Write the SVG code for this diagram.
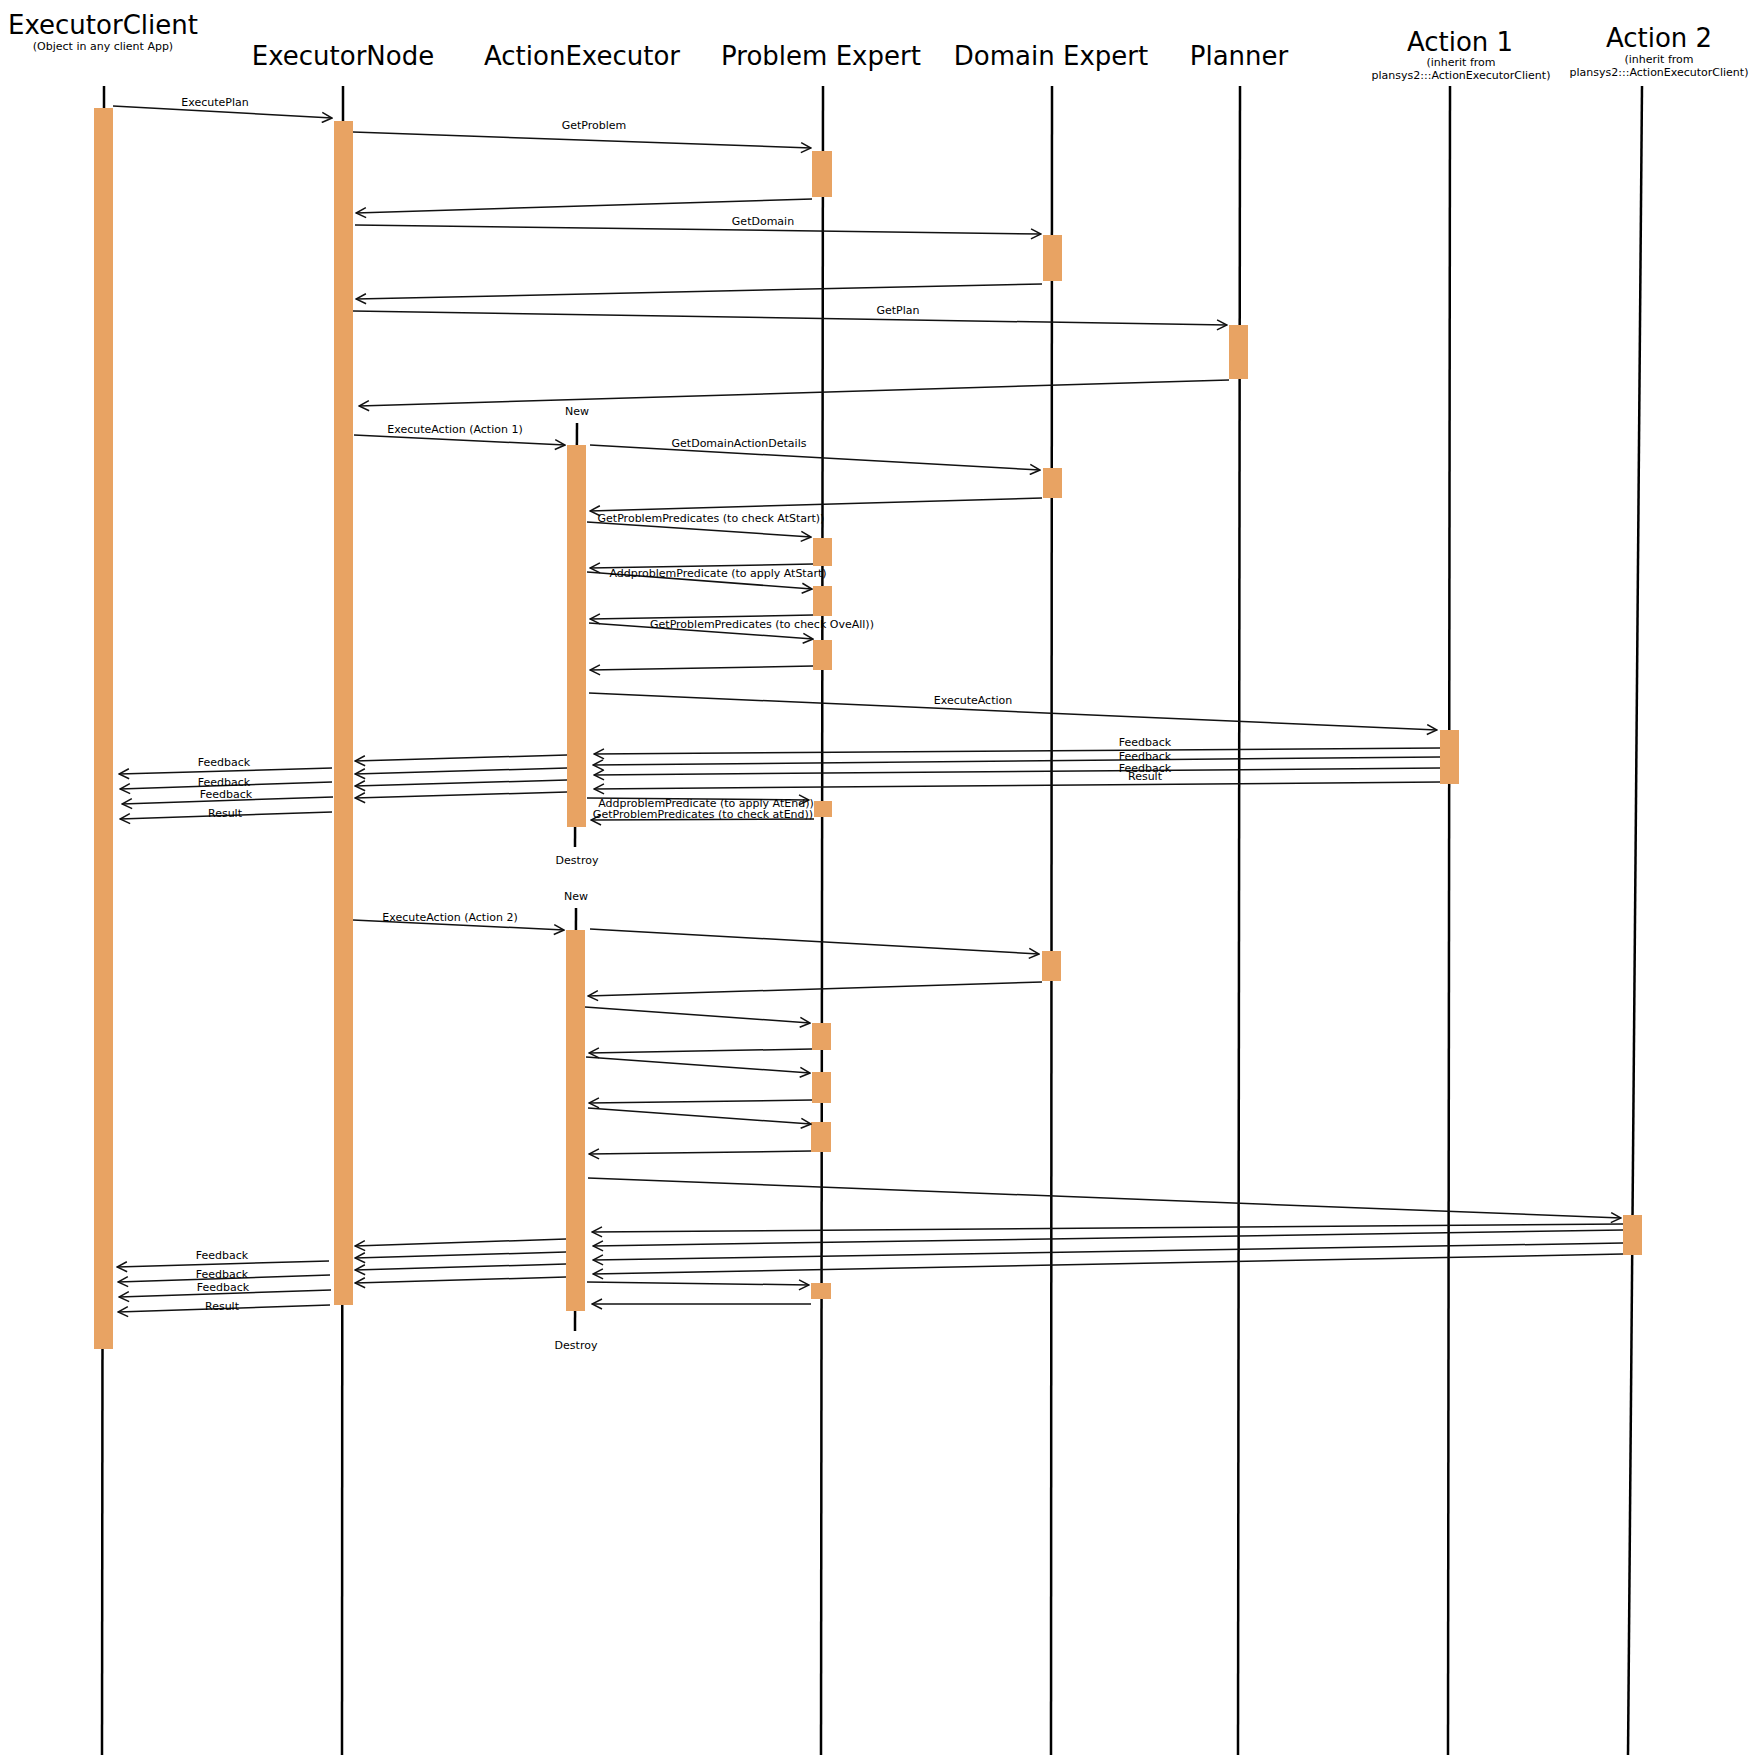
<svg xmlns="http://www.w3.org/2000/svg" width="1759" height="1755" viewBox="0 0 1759 1755">
<defs>
<style>
.t{font-family:"DejaVu Sans",sans-serif;font-size:26px;fill:#000;text-anchor:middle}
.s{font-family:"DejaVu Sans",sans-serif;font-size:11px;fill:#000;text-anchor:middle}
.ll{stroke:#000;stroke-width:2.5;fill:none}
.bar{fill:#E8A363}
.m{stroke:#111;stroke-width:1.5;fill:none;marker-end:url(#ah)}
</style>
<marker id="ah" viewBox="0 0 12 12" refX="11" refY="6" markerWidth="12" markerHeight="12" markerUnits="userSpaceOnUse" orient="auto">
<path d="M1,1 L11,6 L1,11" stroke="#111" stroke-width="1.5" fill="none"/>
</marker>
</defs>
<rect width="1759" height="1755" fill="#fff"/>

<g id="executorclient">
<text class="t" x="103" y="34">ExecutorClient</text>
<text class="s" x="103" y="50">(Object in any client App)</text>
<line class="ll" x1="104" y1="86" x2="102" y2="1755"/>
<rect class="bar" x="94" y="108" width="19" height="1241"/>
</g>
<g id="executornode">
<text class="t" x="343" y="65">ExecutorNode</text>
<line class="ll" x1="343" y1="86" x2="342" y2="1755"/>
<rect class="bar" x="334" y="121" width="19" height="1184"/>
</g>
<g id="actionexecutor">
<text class="t" x="582" y="65">ActionExecutor</text>
<text class="s" x="577" y="415">New</text>
<line class="ll" x1="577" y1="423" x2="575" y2="847"/>
<rect class="bar" x="567" y="445" width="19" height="382"/>
<text class="s" x="577" y="864">Destroy</text>
<text class="s" x="576" y="900">New</text>
<line class="ll" x1="576" y1="908" x2="575" y2="1331"/>
<rect class="bar" x="566" y="930" width="19" height="381"/>
<text class="s" x="576" y="1349">Destroy</text>
</g>
<g id="problemexpert">
<text class="t" x="821" y="65">Problem Expert</text>
<line class="ll" x1="823" y1="86" x2="821" y2="1755"/>
<rect class="bar" x="812" y="151" width="20" height="46"/>
<rect class="bar" x="813" y="538" width="19" height="28"/>
<rect class="bar" x="813" y="586" width="19" height="30"/>
<rect class="bar" x="813" y="640" width="19" height="30"/>
<rect class="bar" x="814" y="801" width="18" height="16"/>
<rect class="bar" x="812" y="1023" width="19" height="27"/>
<rect class="bar" x="812" y="1072" width="19" height="31"/>
<rect class="bar" x="811" y="1122" width="20" height="30"/>
<rect class="bar" x="811" y="1283" width="20" height="16"/>
</g>
<g id="domainexpert">
<text class="t" x="1051" y="65">Domain Expert</text>
<line class="ll" x1="1052" y1="86" x2="1051" y2="1755"/>
<rect class="bar" x="1043" y="235" width="19" height="46"/>
<rect class="bar" x="1043" y="468" width="19" height="30"/>
<rect class="bar" x="1042" y="951" width="19" height="30"/>
</g>
<g id="planner">
<text class="t" x="1239" y="65">Planner</text>
<line class="ll" x1="1240" y1="86" x2="1238" y2="1755"/>
<rect class="bar" x="1229" y="325" width="19" height="54"/>
</g>
<g id="action1">
<text class="t" x="1460" y="51">Action 1</text>
<text class="s" x="1461" y="66">(inherit from</text>
<text class="s" x="1461" y="79">plansys2:::ActionExecutorClient)</text>
<line class="ll" x1="1450" y1="86" x2="1448" y2="1755"/>
<rect class="bar" x="1440" y="730" width="19" height="54"/>
</g>
<g id="action2">
<text class="t" x="1659" y="47">Action 2</text>
<text class="s" x="1659" y="63">(inherit from</text>
<text class="s" x="1659" y="76">plansys2:::ActionExecutorClient)</text>
<line class="ll" x1="1642" y1="86" x2="1628" y2="1755"/>
<rect class="bar" x="1623" y="1215" width="19" height="40"/>
</g>

<g id="connectors">
<line class="m" x1="113" y1="106" x2="332" y2="118"/>
<line class="m" x1="353" y1="132" x2="811" y2="148"/>
<line class="m" x1="812" y1="199" x2="356" y2="213"/>
<line class="m" x1="355" y1="225" x2="1041" y2="234"/>
<line class="m" x1="1042" y1="284" x2="356" y2="299"/>
<line class="m" x1="353" y1="311" x2="1227" y2="325"/>
<line class="m" x1="1229" y1="380" x2="359" y2="406"/>
<line class="m" x1="354" y1="435" x2="565" y2="445"/>
<line class="m" x1="590" y1="445" x2="1040" y2="470"/>
<line class="m" x1="1042" y1="498" x2="590" y2="511"/>
<line class="m" x1="587" y1="522" x2="811" y2="537"/>
<line class="m" x1="813" y1="564" x2="590" y2="568"/>
<line class="m" x1="587" y1="572" x2="812" y2="589"/>
<line class="m" x1="813" y1="615" x2="590" y2="619"/>
<line class="m" x1="589" y1="623" x2="813" y2="639"/>
<line class="m" x1="813" y1="666" x2="590" y2="670"/>
<line class="m" x1="589" y1="693" x2="1437" y2="730"/>
<line class="m" x1="1440" y1="748" x2="594" y2="754"/>
<line class="m" x1="1440" y1="757" x2="593" y2="765"/>
<line class="m" x1="1440" y1="768" x2="594" y2="775"/>
<line class="m" x1="1440" y1="782" x2="594" y2="789"/>
<line class="m" x1="567" y1="755" x2="355" y2="761"/>
<line class="m" x1="567" y1="768" x2="355" y2="774"/>
<line class="m" x1="567" y1="780" x2="355" y2="786"/>
<line class="m" x1="567" y1="792" x2="355" y2="798"/>
<line class="m" x1="332" y1="768" x2="119" y2="774"/>
<line class="m" x1="332" y1="782" x2="120" y2="789"/>
<line class="m" x1="333" y1="797" x2="122" y2="804"/>
<line class="m" x1="332" y1="812" x2="120" y2="819"/>
<line class="m" x1="587" y1="798" x2="809" y2="800"/>
<line class="m" x1="814" y1="819" x2="591" y2="820"/>
<line class="m" x1="353" y1="920" x2="564" y2="930"/>
<line class="m" x1="590" y1="929" x2="1039" y2="954"/>
<line class="m" x1="1042" y1="982" x2="588" y2="996"/>
<line class="m" x1="585" y1="1007" x2="810" y2="1023"/>
<line class="m" x1="812" y1="1049" x2="589" y2="1053"/>
<line class="m" x1="586" y1="1057" x2="810" y2="1073"/>
<line class="m" x1="812" y1="1100" x2="589" y2="1103"/>
<line class="m" x1="588" y1="1108" x2="811" y2="1124"/>
<line class="m" x1="811" y1="1151" x2="589" y2="1154"/>
<line class="m" x1="588" y1="1178" x2="1621" y2="1218"/>
<line class="m" x1="1623" y1="1224" x2="592" y2="1232"/>
<line class="m" x1="1623" y1="1230" x2="593" y2="1246"/>
<line class="m" x1="1623" y1="1243" x2="593" y2="1260"/>
<line class="m" x1="1623" y1="1254" x2="593" y2="1274"/>
<line class="m" x1="566" y1="1239" x2="355" y2="1246"/>
<line class="m" x1="566" y1="1252" x2="355" y2="1258"/>
<line class="m" x1="566" y1="1264" x2="355" y2="1270"/>
<line class="m" x1="566" y1="1277" x2="355" y2="1283"/>
<line class="m" x1="329" y1="1261" x2="117" y2="1267"/>
<line class="m" x1="330" y1="1275" x2="118" y2="1282"/>
<line class="m" x1="331" y1="1290" x2="119" y2="1297"/>
<line class="m" x1="330" y1="1305" x2="118" y2="1312"/>
<line class="m" x1="587" y1="1282" x2="809" y2="1285"/>
<line class="m" x1="811" y1="1304" x2="592" y2="1304"/>

<text class="s" x="215" y="106">ExecutePlan</text>
<text class="s" x="594" y="129">GetProblem</text>
<text class="s" x="763" y="225">GetDomain</text>
<text class="s" x="898" y="314">GetPlan</text>
<text class="s" x="455" y="433">ExecuteAction (Action 1)</text>
<text class="s" x="739" y="447">GetDomainActionDetails</text>
<text class="s" x="711" y="522">GetProblemPredicates (to check AtStart))</text>
<text class="s" x="718" y="577">AddproblemPredicate (to apply AtStart)</text>
<text class="s" x="762" y="628">GetProblemPredicates (to check OveAll))</text>
<text class="s" x="973" y="704">ExecuteAction</text>
<text class="s" x="1145" y="746">Feedback</text>
<text class="s" x="1145" y="760">Feedback</text>
<text class="s" x="1145" y="772">Feedback</text>
<text class="s" x="1145" y="780">Result</text>
<text class="s" x="224" y="766">Feedback</text>
<text class="s" x="224" y="786">Feedback</text>
<text class="s" x="226" y="798">Feedback</text>
<text class="s" x="225" y="817">Result</text>
<text class="s" x="706" y="807">AddproblemPredicate (to apply AtEnd))</text>
<text class="s" x="703" y="818">GetProblemPredicates (to check atEnd))</text>
<text class="s" x="450" y="921">ExecuteAction (Action 2)</text>
<text class="s" x="222" y="1259">Feedback</text>
<text class="s" x="222" y="1278">Feedback</text>
<text class="s" x="223" y="1291">Feedback</text>
<text class="s" x="222" y="1310">Result</text>
</g>
</svg>
